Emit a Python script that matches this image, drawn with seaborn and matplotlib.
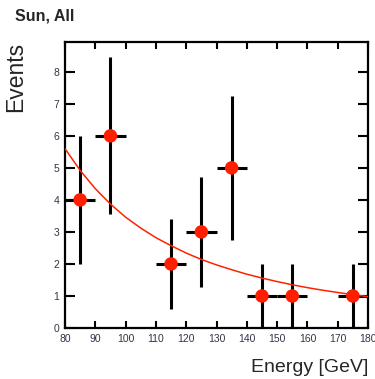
import numpy as np
import pandas as pd
import matplotlib
matplotlib.use("Agg")
import matplotlib.pyplot as plt
import seaborn as sns

# Binned event counts vs energy
energy = [85, 95, 115, 125, 135, 145, 155, 175]
events = [4, 6, 2, 3, 5, 1, 1, 1]
bin_halfwidth = [5, 5, 5, 5, 5, 5, 5, 5]
event_err = [2.0, 2.45, 1.41, 1.73, 2.24, 1.0, 1.0, 1.0]

# Fitted spectrum curve, sampled every 5 GeV
fit_energy = [80, 85, 90, 95, 100, 105, 110, 115, 120, 125, 130,
              135, 140, 145, 150, 155, 160, 165, 170, 175, 180]
fit_events = [5.60, 4.92, 4.35, 3.87, 3.46, 3.12, 2.82, 2.57, 2.34, 2.14, 1.97,
              1.82, 1.68, 1.56, 1.45, 1.35, 1.26, 1.18, 1.11, 1.04, 0.98]

x_ticks = [80, 90, 100, 110, 120, 130, 140, 150, 160, 170, 180]
y_ticks = [0, 1, 2, 3, 4, 5, 6, 7, 8]

sns.set_theme(style="white")
plt.rcParams["font.family"] = ["Liberation Sans", "DejaVu Sans"]

df = pd.DataFrame({"energy": energy, "events": events,
                   "xerr": bin_halfwidth, "yerr": event_err})
fit = pd.DataFrame({"energy": fit_energy, "events": fit_events})

fig = plt.figure(figsize=(3.75, 3.79), dpi=100)
ax = fig.add_axes([65 / 375, 1 - 328 / 379, 303 / 375, 286 / 379])

ax.errorbar(df["energy"], df["events"], xerr=df["xerr"], yerr=df["yerr"],
            fmt="none", ecolor="black", elinewidth=2.2, capsize=0, zorder=2)
sns.lineplot(data=fit, x="energy", y="events", ax=ax, color="#ff2200",
             linewidth=1.1, zorder=3)
sns.scatterplot(data=df, x="energy", y="events", ax=ax, color="#ff1e00",
                s=95, edgecolor="none", zorder=4)

ax.set_xlim(80, 180)
ax.set_ylim(0, 8.93)
ax.set_xticks(x_ticks)
ax.set_yticks(y_ticks)
ax.set_xticklabels([str(t) for t in x_ticks])
ax.set_yticklabels([str(t) for t in y_ticks])

for side in ax.spines.values():
    side.set_color("black")
    side.set_linewidth(1.6)

ax.tick_params(axis="x", direction="in", length=5, width=1.5, top=True,
               bottom=True, labelsize=7.5, pad=4, colors="black",
               labelcolor="#33334a")
ax.tick_params(axis="y", direction="in", length=7, width=1.5, left=True,
               right=True, labelsize=7.5, pad=4, colors="black",
               labelcolor="#33334a")

ax.set_xlabel("Energy [GeV]", fontsize=14, loc="right", labelpad=11)
ax.set_ylabel("Events", fontsize=16.5, loc="top", labelpad=19)

fig.text(15 / 375, 1 - 16 / 379, "Sun, All", fontsize=11.5,
         fontweight="bold", va="center", ha="left")

fig.savefig("out.png", dpi=100)
